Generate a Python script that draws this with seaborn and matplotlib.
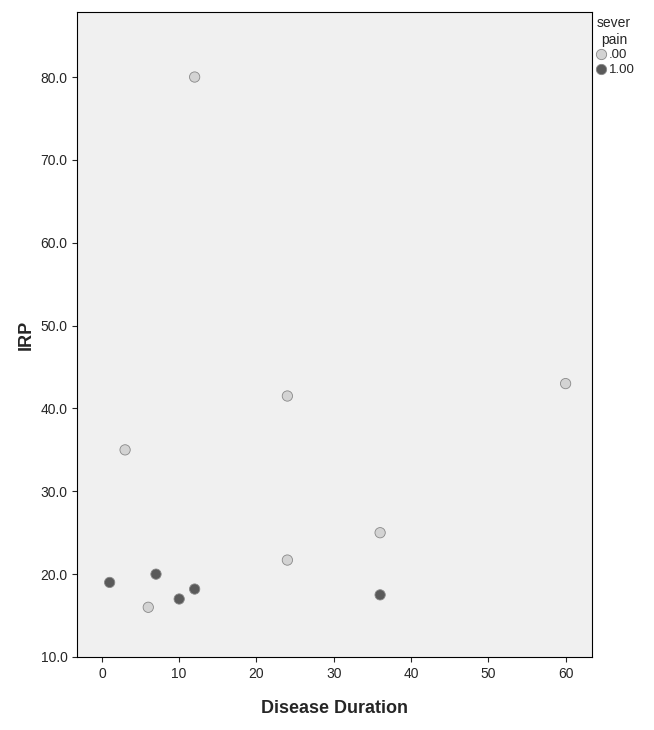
import numpy as np
import seaborn as sns
import matplotlib.pyplot as plt
import pandas as pd
from matplotlib.ticker import FormatStrFormatter

# data
duration_0 = [12, 3, 6, 24, 24, 36, 60]
irp_0 = [80.0, 35.0, 16.0, 41.5, 21.7, 25.0, 43.0]
duration_1 = [1, 7, 10, 12, 36]
irp_1 = [19.0, 20.0, 17.0, 18.2, 17.5]
group_labels = ['.00', '1.00']

df = pd.DataFrame({
    'Disease Duration': duration_0 + duration_1,
    'IRP': irp_0 + irp_1,
    'sever pain': [group_labels[0]] * len(duration_0) + [group_labels[1]] * len(duration_1),
})

sns.set_style('ticks')
plt.rcParams['font.family'] = ['Liberation Sans', 'DejaVu Sans']

fig = plt.figure(figsize=(6.54, 7.30), dpi=100)
ax = fig.add_axes([0.118, 0.10, 0.787, 0.883])
ax.set_facecolor('#f0f0f0')

sns.scatterplot(data=df, x='Disease Duration', y='IRP', hue='sever pain',
                palette={'.00': '#d3d3d3', '1.00': '#5a5a5a'},
                edgecolor='#888888', linewidth=0.6, s=55, ax=ax, legend=True)

ax.set_xlim(-3.2, 63.4)
ax.set_ylim(10, 87.8)
ax.set_xticks(range(0, 61, 10))
ax.set_yticks(np.arange(10, 81, 10))
ax.yaxis.set_major_formatter(FormatStrFormatter('%.1f'))
ax.tick_params(labelsize=10)
ax.set_xlabel('Disease Duration', fontsize=13, fontweight='bold', labelpad=14)
ax.set_ylabel('IRP', fontsize=13, fontweight='bold')
for sp in ax.spines.values():
    sp.set_color('black')

h, l = ax.get_legend_handles_labels()
leg = ax.legend(h, l, title='sever\npain', loc='upper left', bbox_to_anchor=(0.995, 1.0),
                frameon=False, handletextpad=0.0, handlelength=1.2, borderaxespad=0.2,
                borderpad=0.1, labelspacing=0.2, fontsize=9.5, title_fontsize=10)
leg.get_title().set_multialignment('center')

fig.savefig('out.png', dpi=100)
